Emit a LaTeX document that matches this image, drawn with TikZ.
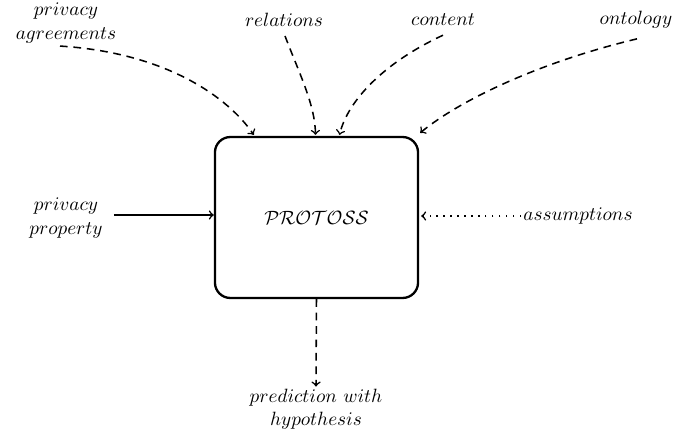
\documentclass[tikz,border=0pt]{standalone}
\usetikzlibrary{calc}
\begin{document}
\begin{tikzpicture}[x=0.52pt,y=-0.52pt,
  lbl/.style={align=center,inner sep=1pt},
  core/.style={draw,very thick,rounded corners=8pt,minimum width=105.6pt,minimum height=83.7pt,inner sep=0pt},
  flow/.style={->,thick},
  dashflow/.style={->,thick,dash pattern=on 4pt off 3pt},
  dotflow/.style={->,thick,dash pattern=on 0.8pt off 2.8pt}]
\useasboundingbox (0,0) rectangle (673,429);

% central process box
\node[core] (box) at (316.5,217.5) {$\mathcal{PROTOSS}$};

% inputs and output labels
\node[lbl] (agr) at (66,23) {$privacy$\\$agreements$};
\node[lbl] (rel) at (284,20) {$relations$};
\node[lbl] (con) at (443,20) {$content$};
\node[lbl] (ont) at (636,20) {$ontology$};
\node[lbl] (prop) at (66,218) {$privacy$\\$property$};
\node[lbl] (ass) at (578,216) {$assumptions$};
\node[lbl,inner sep=0pt] (pred) at (316,409) {$prediction\ with$\\$hypothesis$};

% entry points on the box border
\coordinate (eagr) at ($(box.north west)+(40,-1)$);
\coordinate (erel) at ($(box.north)+(-1,-1)$);
\coordinate (econ) at ($(box.north)+(23,-1)$);
\coordinate (eont) at ($(box.north east)+(1,-3)$);

% connectors
\draw[dashflow] ($(agr.south)+(-6,1)$) .. controls (170,53) and (230,100) .. (eagr);
\draw[dashflow] ($(rel.south)+(1,7)$) .. controls (300,75) and (315,105) .. (erel);
\draw[dashflow] ($(con.south)+(0,7)$) .. controls (385,62) and (348,100) .. (econ);
\draw[dashflow] ($(ont.south)+(1,8)$) .. controls (540,62) and (460,100) .. (eont);
\draw[flow] ($(prop.east)+(9,-3)$) -- (box.west |- {$(prop.east)+(0,-3)$});
\draw[dotflow] (ass.west) -- ($(box.east)+(2,-1.5)$);
\draw[dashflow] (box.south) -- ($(pred.north)+(0,-2)$);
\end{tikzpicture}
\end{document}
